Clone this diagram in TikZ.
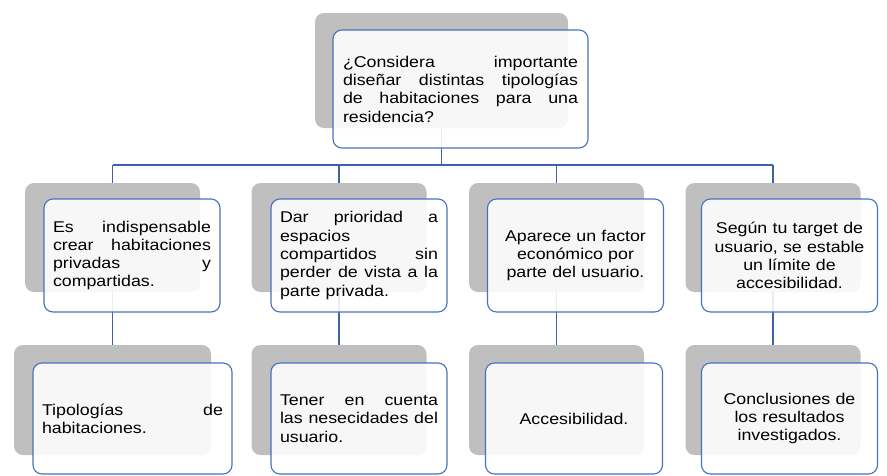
\documentclass[tikz,border=0pt]{standalone}
\usepackage{fontspec}
\setmainfont{Liberation Sans}[FakeStretch=1.14]
\usetikzlibrary{backgrounds}
\definecolor{boxgray}{HTML}{BFBFBF}
\definecolor{boxblue}{HTML}{4472C4}
\definecolor{linkblue}{HTML}{3E62AA}
\newcommand\jline[1]{\leavevmode\hbox to \hsize{#1}}
\begin{document}
\begin{tikzpicture}[x=1pt,y=-1pt,
  backbox/.style={fill=boxgray, draw=none, rounded corners=9pt, inner sep=0pt},
  frontbox/.style={fill=white, fill opacity=0.88, text opacity=1, draw=boxblue,
    line width=1.1pt, rounded corners=9pt, inner sep=0pt, text=black,
    font=\fontsize{15.6}{18.3}\selectfont},
  link/.style={draw=linkblue, line width=1.4pt}]
\useasboundingbox (0,0) rectangle (887,475);
% top
\node[backbox, minimum width=253pt, minimum height=115pt] (g0) at (441.5,70.5) {};
\node[frontbox, minimum width=255pt, minimum height=118pt, text width=235pt, align=left] (f0) at (460.5,89)
 {\jline{¿Considera\hfill importante}\\\jline{diseñar\hfill distintas\hfill tipologías}\\\jline{de\hfill habitaciones\hfill para\hfill una}\\residencia?};
% level 2 back
\node[backbox, minimum width=175pt, minimum height=109pt] (g1) at (112.5,237.5) {};
\node[backbox, minimum width=175pt, minimum height=109pt] (g2) at (339,237.5) {};
\node[backbox, minimum width=175pt, minimum height=109pt] (g3) at (556.5,237.5) {};
\node[backbox, minimum width=175pt, minimum height=109pt] (g4) at (773,237.5) {};
% level 2 front
\node[frontbox, minimum width=176pt, minimum height=113pt, text width=158pt, align=left] (f1) at (132,255.5)
 {\jline{Es\hfill indispensable}\\\jline{crear\hfill habitaciones}\\\jline{privadas\hfill y}\\compartidas.};
\node[frontbox, minimum width=176pt, minimum height=113pt, text width=158pt, align=left] (f2) at (359,255.5)
 {\jline{Dar\hfill prioridad\hfill a}\\espacios\\\jline{compartidos\hfill sin}\\\jline{perder\hfill de\hfill vista\hfill a\hfill la}\\parte privada.};
\node[frontbox, minimum width=176pt, minimum height=113pt, text width=158pt, align=center] (f3) at (575.5,255.5)
 {Aparece un factor\\económico por\\parte del usuario.};
\node[frontbox, minimum width=176pt, minimum height=113pt, text width=158pt, align=center] (f4) at (789.5,255.5)
 {Según tu target de\\usuario, se estable\\un límite de\\accesibilidad.};
% level 3 back
\node[backbox, minimum width=197pt, minimum height=110pt] (h1) at (112.5,400) {};
\node[backbox, minimum width=175pt, minimum height=110pt] (h2) at (339,400) {};
\node[backbox, minimum width=175pt, minimum height=110pt] (h3) at (556.5,400) {};
\node[backbox, minimum width=175pt, minimum height=110pt] (h4) at (773,400) {};
% level 3 front
\node[frontbox, minimum width=199pt, minimum height=111pt, text width=181pt, align=left] (k1) at (132.5,418.5)
 {\jline{Tipologías\hfill de}\\habitaciones.};
\node[frontbox, minimum width=176pt, minimum height=111pt, text width=158pt, align=left] (k2) at (359,418.5)
 {\jline{Tener\hfill en\hfill cuenta}\\\jline{las\hfill nesecidades\hfill del}\\usuario.};
\node[frontbox, minimum width=177pt, minimum height=111pt, text width=158pt, align=center] (k3) at (574,418.5)
 {Accesibilidad.};
\node[frontbox, minimum width=176pt, minimum height=111pt, text width=158pt, align=center] (k4) at (789.5,418.5)
 {Conclusiones de\\los resultados\\investigados.};
% connectors
\begin{pgfonlayer}{background}
\coordinate (bus) at (441.5,165);
\draw[link] (g0.center) -- (bus);
\draw[link] (g1 |- bus) -- (g4 |- bus);
\foreach \i in {1,2,3,4} {\draw[link] (g\i |- bus) -- (h\i.center);}
\end{pgfonlayer}
\end{tikzpicture}
\end{document}
